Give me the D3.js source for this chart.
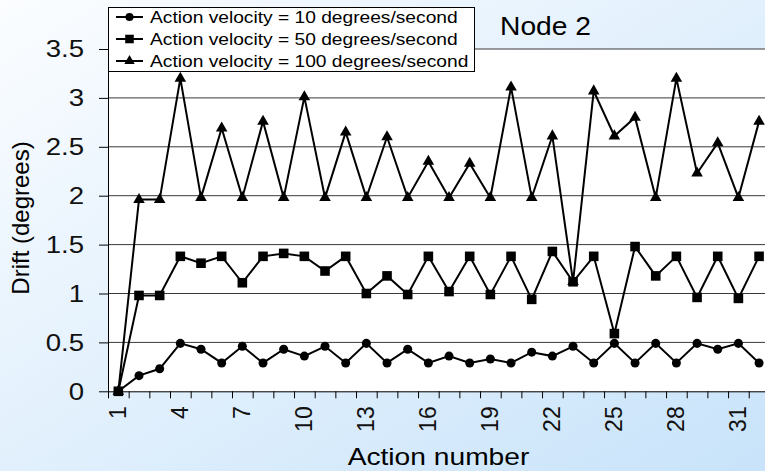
<!DOCTYPE html>
<html>
<head>
<meta charset="utf-8">
<script src="https://cdn.jsdelivr.net/npm/d3@7"></script>
<style>
  body { margin: 0; }
  svg { display: block; font-family: Arial, "Liberation Sans", sans-serif; }
</style>
</head>
<body>
<svg id="chart" width="765" height="471"></svg>
<script>
/* chart data */
const actions = [1, 2, 3, 4, 5, 6, 7, 8, 9, 10, 11, 12, 13, 14, 15, 16,
  17, 18, 19, 20, 21, 22, 23, 24, 25, 26, 27, 28, 29, 30, 31, 32];
const drift10 = [0, 0.16, 0.23, 0.49, 0.43, 0.29, 0.46, 0.29, 0.43, 0.36, 0.46, 0.29, 0.49, 0.29, 0.43, 0.29,
  0.36, 0.29, 0.33, 0.29, 0.40, 0.36, 0.46, 0.29, 0.49, 0.29, 0.49, 0.29, 0.49, 0.43, 0.49, 0.29];
const drift50 = [0, 0.98, 0.98, 1.38, 1.31, 1.38, 1.11, 1.38, 1.41, 1.38, 1.23, 1.38, 1.00, 1.18, 0.99, 1.38,
  1.02, 1.38, 0.99, 1.38, 0.94, 1.43, 1.12, 1.38, 0.59, 1.48, 1.18, 1.38, 0.96, 1.38, 0.95, 1.38];
const drift100 = [0, 1.96, 1.96, 3.2, 1.98, 2.69, 1.98, 2.76, 1.98, 3.01, 1.98, 2.65, 1.98, 2.6, 1.98, 2.35,
  1.98, 2.33, 1.98, 3.11, 1.98, 2.61, 1.12, 3.07, 2.61, 2.8, 1.98, 3.2, 2.23, 2.54, 1.98, 2.76];
const seriesNames = ["Action velocity = 10 degrees/second",
  "Action velocity = 50 degrees/second",
  "Action velocity = 100 degrees/second"];
const yTicks = [0, 0.5, 1, 1.5, 2, 2.5, 3, 3.5];
const xTickLabels = [1, 4, 7, 10, 13, 16, 19, 22, 25, 28, 31];

const svg = d3.select("#chart");
const width = 765, height = 471;
const plot = { left: 108, right: 769.4, top: 49, bottom: 391.3 };

/* background gradient */
const grad = svg.append("defs").append("linearGradient")
  .attr("id", "bg").attr("x1", 0).attr("y1", 0).attr("x2", 1).attr("y2", 1);
grad.append("stop").attr("offset", "0%").attr("stop-color", "#fbfdff");
grad.append("stop").attr("offset", "100%").attr("stop-color", "#c8e3fa");
svg.append("rect").attr("width", width).attr("height", height).attr("fill", "url(#bg)");

/* scales */
const x = d3.scaleBand().domain(actions).range([plot.left, plot.right]).padding(0);
const xEdge = d3.scaleLinear().domain([0, actions.length]).range([plot.left, plot.right]);
const y = d3.scaleLinear().domain([0, 3.5]).range([plot.bottom, plot.top]);
const cx = (d, i) => x(actions[i]) + x.bandwidth() / 2;

/* plot area */
svg.append("rect")
  .attr("x", plot.left).attr("y", plot.top)
  .attr("width", plot.right - plot.left).attr("height", plot.bottom - plot.top)
  .attr("fill", "white");

/* gridlines */
svg.append("g").selectAll("line")
  .data(yTicks.filter(d => d > 0))
  .enter().append("line")
  .attr("x1", plot.left).attr("x2", plot.right)
  .attr("y1", d => y(d)).attr("y2", d => y(d))
  .attr("stroke", "#3a3a3a").attr("stroke-width", 1);

/* y axis */
const yAxis = svg.append("g")
  .attr("transform", `translate(${plot.left},0)`)
  .call(d3.axisLeft(y).tickValues(yTicks).tickSize(9).tickSizeOuter(0).tickFormat(d3.format("")));
yAxis.selectAll("text")
  .attr("x", 0).attr("dy", "0.34em")
  .attr("transform", "translate(-24,0) scale(1.2,1)")
  .style("font-size", "23px").attr("fill", "#111");

/* x axis: ticks between categories */
svg.append("g")
  .attr("transform", `translate(0,${plot.bottom})`)
  .call(d3.axisBottom(xEdge).tickValues(d3.range(0, actions.length + 1)).tickSize(7).tickSizeOuter(0).tickFormat(""));
const xLabels = svg.append("g")
  .attr("transform", `translate(0,${plot.bottom})`)
  .call(d3.axisBottom(x).tickValues(xTickLabels).tickSize(0));
xLabels.select(".domain").remove();
xLabels.selectAll("text")
  .attr("x", -15).attr("y", 0).attr("dy", "0.35em")
  .attr("transform", "rotate(-90)")
  .attr("text-anchor", "end")
  .style("font-size", "23px").attr("fill", "#111");
svg.selectAll(".domain, .tick line").attr("stroke", "black");

/* series */
const series = [
  { values: drift10, symbol: d3.symbolCircle, size: 64 },
  { values: drift50, symbol: d3.symbolSquare, size: 92 },
  { values: drift100, symbol: d3.symbolTriangle, size: 58 }
];
const line = d3.line().x(cx).y(d => y(d));

series.forEach(s => {
  svg.append("path")
    .datum(s.values)
    .attr("d", line)
    .attr("fill", "none")
    .attr("stroke", "black")
    .attr("stroke-width", 2);
  svg.append("g").selectAll("path")
    .data(s.values)
    .enter().append("path")
    .attr("transform", (d, i) => `translate(${cx(d, i)},${y(d)})`)
    .attr("d", d3.symbol().type(s.symbol).size(s.size))
    .attr("fill", "black");
});

/* legend */
const legend = svg.append("g");
legend.append("rect")
  .attr("x", 108.5).attr("y", 7.5).attr("width", 366).attr("height", 64)
  .attr("fill", "white").attr("stroke", "black").attr("stroke-width", 1);
series.forEach((s, i) => {
  const ly = 17 + i * 22;
  legend.append("line")
    .attr("x1", 116).attr("x2", 143).attr("y1", ly).attr("y2", ly)
    .attr("stroke", "black").attr("stroke-width", 2);
  legend.append("path")
    .attr("transform", `translate(129.5,${ly})`)
    .attr("d", d3.symbol().type(s.symbol).size(s.size * 0.8))
    .attr("fill", "black");
  legend.append("text")
    .attr("transform", `translate(150,${ly + 6}) scale(1.2,1)`)
    .style("font-size", "16px")
    .text(seriesNames[i]);
});

/* title */
svg.append("text")
  .attr("transform", "translate(500,35) scale(1.13,1)")
  .style("font-size", "25px")
  .text("Node 2");

/* x axis label */
svg.append("text")
  .attr("transform", "translate(438.5,465) scale(1.2,1)")
  .attr("text-anchor", "middle")
  .style("font-size", "23.5px")
  .text("Action number");

/* y axis label */
svg.append("text")
  .attr("transform", "translate(28.5,218) rotate(-90)")
  .attr("text-anchor", "middle")
  .style("font-size", "24px")
  .text("Drift (degrees)");
</script>
</body>
</html>
